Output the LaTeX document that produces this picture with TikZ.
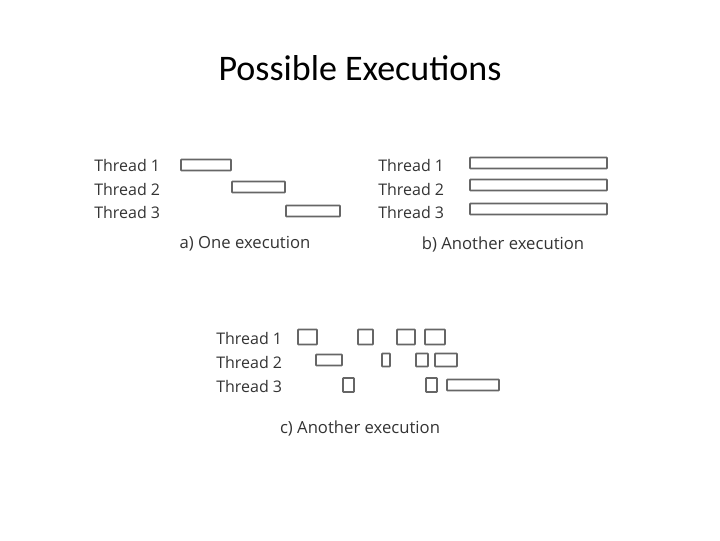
\documentclass[tikz,border=0pt]{standalone}
\usepackage{fontspec}
\setmainfont{Carlito}
\newfontfamily\labelfont{Open Sans}
\tikzset{
  lbl/.style={anchor=west, inner sep=0pt, font=\labelfont\fontsize{12}{12}\selectfont, text=black!80},
  captext/.style={inner sep=0pt, font=\labelfont\fontsize{12.5}{13}\selectfont, text=black!80},
  slice/.style={draw=black!60, line width=1.4pt, inner sep=0pt, rounded corners=0.5pt}
}
% slice from x1 to x2 at row y with height h
\newcommand{\slice}[5]{\node[slice, minimum width={(#3-#2)*0.75pt}, minimum height=#5*0.75pt] (#1) at ({(#2+#3)/2},#4) {};}
\begin{document}
\begin{tikzpicture}[x=0.75pt, y=-0.75pt]
\useasboundingbox (0,0) rectangle (720,540);

%title
\node[font=\fontsize{27}{30}\selectfont] (title) at (360,68) {Possible Executions};

%a
\node[lbl] (a1) at (94,165) {Thread 1};
\node[lbl] (a2) at (94,189) {Thread 2};
\node[lbl] (a3) at (94,212) {Thread 3};
\slice{a1s}{181}{231}{165}{11}
\slice{a2s}{232}{285}{187}{11}
\slice{a3s}{286}{340}{211}{11}
\node[captext] (acap) at (245,244) {a) One execution};

%b
\node[lbl] (b1) at (378,165) {Thread 1};
\node[lbl] (b2) at (378,189) {Thread 2};
\node[lbl] (b3) at (378,212) {Thread 3};
\slice{b1s}{470}{607}{163}{11}
\slice{b2s}{470}{607}{185}{11}
\slice{b3s}{470}{607}{209}{11}
\node[captext] (bcap) at (503,244) {b) Another execution};

%c
\node[lbl] (c1) at (216,338) {Thread 1};
\node[lbl] (c2) at (216,362) {Thread 2};
\node[lbl] (c3) at (216,386) {Thread 3};
\slice{c1a}{298}{317}{337}{15}
\slice{c1b}{358}{373}{337}{15}
\slice{c1c}{397}{415}{337}{15}
\slice{c1d}{425}{445}{337}{15}
\slice{c2a}{316}{342}{360}{11}
\slice{c2b}{382}{390}{360}{13}
\slice{c2c}{416}{428}{360}{13}
\slice{c2d}{435}{457}{360}{13}
\slice{c3a}{343}{354}{385}{14}
\slice{c3b}{426}{437}{385}{14}
\slice{c3c}{447}{499}{385}{11}
\node[captext] (ccap) at (360,428) {c) Another execution};
\end{tikzpicture}
\end{document}
